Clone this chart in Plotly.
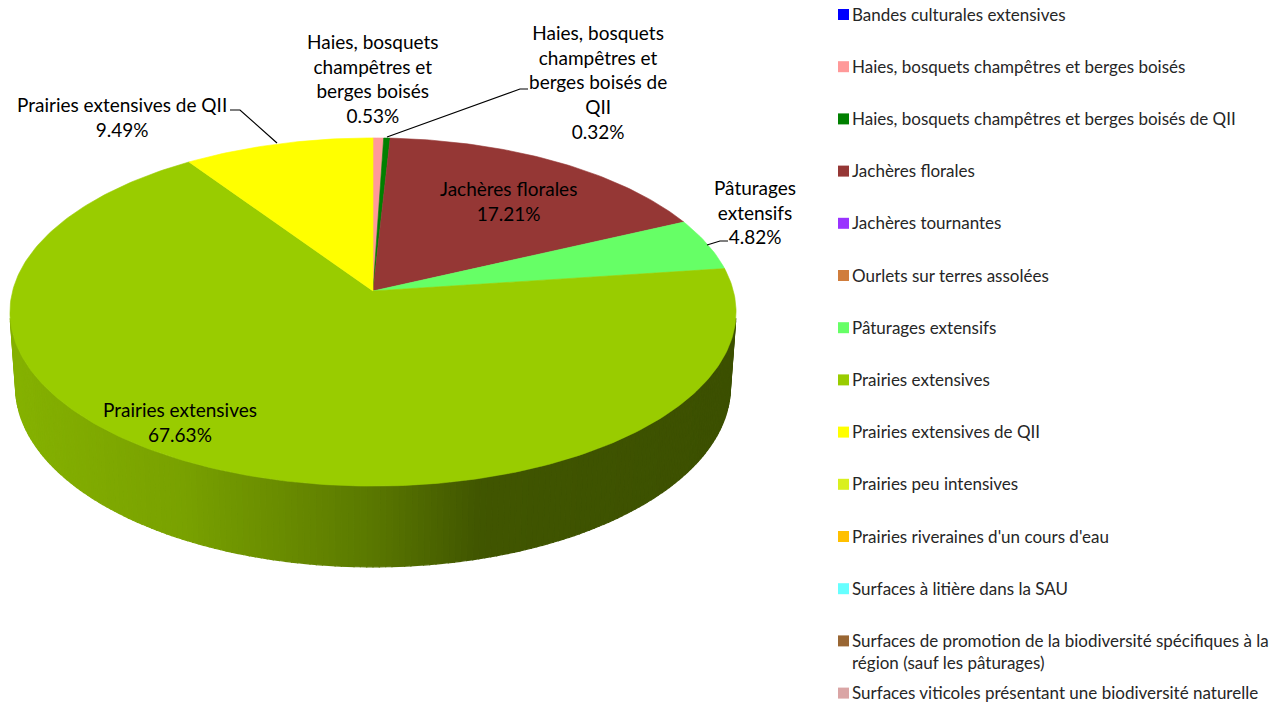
import numpy as np
import plotly.graph_objects as go

# ---------------- data ----------------
categories = [
    "Bandes culturales extensives",
    "Haies, bosquets champêtres et berges boisés",
    "Haies, bosquets champêtres et berges boisés de QII",
    "Jachères florales",
    "Jachères tournantes",
    "Ourlets sur terres assolées",
    "Pâturages extensifs",
    "Prairies extensives",
    "Prairies extensives de QII",
    "Prairies peu intensives",
    "Prairies riveraines d'un cours d'eau",
    "Surfaces à litière dans la SAU",
    "Surfaces de promotion de la biodiversité spécifiques à la<br>région (sauf les pâturages)",
    "Surfaces viticoles présentant une biodiversité naturelle",
]
values = [0, 0.53, 0.32, 17.21, 0, 0, 4.82, 67.63, 9.49, 0, 0, 0, 0, 0]
colors = [
    "#0000FF", "#FF9999", "#008000", "#953735", "#9933FF", "#D07D3C",
    "#66FF66", "#99CC00", "#FFFF00", "#D9F01F", "#FFC000", "#66FFFF",
    "#996633", "#DAA5A5",
]
# wrapped text used in the data labels
label_names = [
    "", "Haies, bosquets<br>champêtres et<br>berges boisés",
    "Haies, bosquets<br>champêtres et<br>berges boisés de<br>QII",
    "Jachères florales", "", "", "Pâturages<br>extensifs",
    "Prairies extensives", "Prairies extensives de QII", "", "", "", "", "",
]

# ---------------- 3D pie geometry (perspective projection) ----------------
SX, SY = 373.0, 291.0          # projected centre of the pie top
KR = 360.4                      # k * R / d
A = 0.1207                      # rho * cos(elev)
SIN_E = 0.476
COS_E = np.sqrt(1 - SIN_E ** 2)
RHO = A / COS_E
K = KR / RHO
ETA = 0.0326                    # thickness / camera distance


def proj(theta, depth=0.0):
    h = ETA * depth
    den = 1 + h * SIN_E + RHO * np.cos(theta) * COS_E
    x = SX + K * RHO * np.sin(theta) / den
    y = SY - K * (-h * COS_E + RHO * np.cos(theta) * SIN_E) / den
    return x, y


def shade_factor(x):
    return np.interp(x, [10, 180, 370, 480, 740], [0.87, 0.79, 0.59, 0.42, 0.39])


def hex_scale(hexcol, f):
    r, g, b = int(hexcol[1:3], 16), int(hexcol[3:5], 16), int(hexcol[5:7], 16)
    return "rgb(%d,%d,%d)" % (round(r * f), round(g * f), round(b * f))


total = sum(values)
cum = np.concatenate([[0], np.cumsum(values)])
starts = 2 * np.pi * cum[:-1] / total
ends = 2 * np.pi * cum[1:] / total

fig = go.Figure()

# --- side wall (visible part only), drawn as thin shaded strips ---
th_lo = np.arccos(-RHO / COS_E)
th_hi = 2 * np.pi - th_lo
edges = np.linspace(th_lo, th_hi, 181)
for i in range(len(values)):
    if values[i] <= 0:
        continue
    a0, a1 = max(starts[i], th_lo), min(ends[i], th_hi)
    if a1 <= a0:
        continue
    e = edges[(edges > a0) & (edges < a1)]
    e = np.concatenate([[a0], e, [a1]])
    for j in range(len(e) - 1):
        t = np.linspace(e[j], e[j + 1], 3)
        xt, yt = proj(t, 0)
        xb, yb = proj(t[::-1], 1)
        xm, _ = proj((e[j] + e[j + 1]) / 2, 0)
        col = hex_scale(colors[i], shade_factor(xm))
        fig.add_trace(go.Scatter(
            x=np.concatenate([xt, xb, xt[:1]]),
            y=np.concatenate([yt, yb, yt[:1]]),
            mode="lines", fill="toself", fillcolor=col,
            line=dict(color=col, width=1.2), hoverinfo="skip", showlegend=False))

# --- top face slices ---
for i in range(len(values)):
    if values[i] <= 0:
        continue
    n = max(4, int((ends[i] - starts[i]) / (2 * np.pi) * 400))
    t = np.linspace(starts[i], ends[i], n)
    xa, ya = proj(t, 0)
    fig.add_trace(go.Scatter(
        x=np.concatenate([[SX], xa, [SX]]),
        y=np.concatenate([[SY], ya, [SY]]),
        mode="lines", fill="toself", fillcolor=colors[i],
        line=dict(color=colors[i], width=0.6), hoverinfo="skip", showlegend=False))

# --- data labels ---
label_pos = {
    1: (373, 78), 2: (598, 82), 3: (508, 201), 6: (755, 212), 7: (180, 422), 8: (122, 117),
}
annotations = []
for i, (lx, ly) in label_pos.items():
    annotations.append(dict(
        x=lx, y=ly, xref="x", yref="y", showarrow=False,
        text="%s<br>%.2f%%" % (label_names[i], values[i]),
        font=dict(family="Lato, Carlito, sans-serif", size=19, color="#000000"),
        align="center", xanchor="center", yanchor="middle"))

shapes = [
    dict(type="path", path="M 387 137 L 520 89 L 528 89", xref="x", yref="y",
         line=dict(color="#000000", width=1.2)),
    dict(type="path", path="M 230 110 L 240 110 L 277 143", xref="x", yref="y",
         line=dict(color="#000000", width=1.2)),
    dict(type="path", path="M 707 245 L 720 241 L 728 241", xref="x", yref="y",
         line=dict(color="#000000", width=1.2)),
]

# --- legend (custom, right side) ---
row_y = [14.5 + 52.2 * i for i in range(len(categories))]
fig.add_trace(go.Scatter(
    x=[843.5] * len(categories), y=row_y, mode="markers",
    marker=dict(symbol="square", size=11, color=colors, line=dict(width=0)),
    hoverinfo="skip", showlegend=False))
for i, name in enumerate(categories):
    annotations.append(dict(
        x=851, y=row_y[i] - 12, xref="x", yref="y", showarrow=False,
        text=name, align="left", xanchor="left", yanchor="top", borderpad=0,
        font=dict(family="Lato, Carlito, sans-serif", size=17, color="#262626")))

fig.update_layout(
    width=1286, height=704, margin=dict(l=0, r=0, t=0, b=0),
    paper_bgcolor="white", plot_bgcolor="white",
    xaxis=dict(range=[0, 1286], visible=False, fixedrange=True),
    yaxis=dict(range=[704, 0], visible=False, fixedrange=True),
    annotations=annotations, shapes=shapes, showlegend=False,
)
fig.write_html("out.html", config={"displayModeBar": False},
               post_script="document.body.style.margin='0';")
